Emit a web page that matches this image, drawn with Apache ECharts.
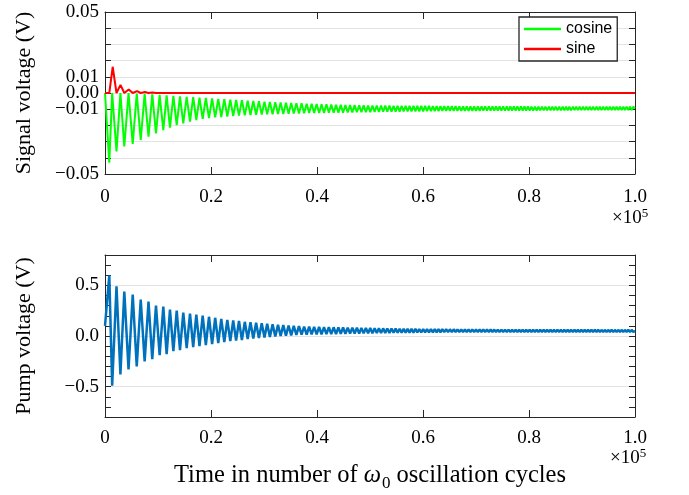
<!DOCTYPE html>
<html><head><meta charset="utf-8">
<script src="https://cdn.jsdelivr.net/npm/echarts@6/dist/echarts.min.js"></script>
<style>html,body{margin:0;padding:0;background:#fff}#c{width:689px;height:495px}</style>
</head><body><div id="c"></div>
<script>
// ---- tick labels ----
const xTickLabels = ['0', '0.2', '0.4', '0.6', '0.8', '1.0'];
const signalTickValues = [-0.05, -0.01, 0, 0.01, 0.05];
const signalTickLabels = ['\u22120.05', '\u22120.01', '0.00', '0.01', '0.05'];
const pumpTickValues = [-0.5, 0, 0.5];
const pumpTickLabels = ['\u22120.5', '0.0', '0.5'];
const seriesNames = ['cosine', 'sine'];

// ---- turning points (x in oscillation cycles) ----
const peakX = [
  810, 2170, 3640, 5230, 6740, 8210, 9620, 11000, 12260, 13530,
  14770, 16040, 17230, 18430, 19620, 20790, 21940, 23080, 24190, 25280,
  26380, 27450, 28510, 29570, 30600, 31620, 32640, 33640, 34640, 35620,
  36600, 37570, 38520, 39460, 40400, 41320, 42240, 43140, 44040, 44920,
  45800, 46670, 47530, 48380, 49220, 50050, 50870, 51680, 52480, 53270,
  54060, 54830, 55590, 56350, 57090, 57830, 58570, 59300, 60040, 60760,
  61490, 62220, 62930, 63650, 64370, 65080, 65790, 66500, 67210, 67910,
  68600, 69300, 70000, 70690, 71380, 72070, 72760, 73440, 74110, 74790,
  75470, 76140, 76810, 77480, 78150, 78810, 79470, 80130, 80790, 81450,
  82110, 82770, 83420, 84070, 84720, 85370, 86020, 86660, 87300, 87940,
  88590, 89230, 89870, 90510, 91150, 91780, 92420, 93050, 93680, 94310,
  94940, 95580, 96210, 96840, 97470, 98100, 98740, 99370
];
const troughX = [
  1350, 2910, 4440, 5990, 7480, 8920, 10310, 11630, 12900, 14150,
  15410, 16640, 17830, 19030, 20210, 21370, 22510, 23640, 24740, 25830,
  26920, 27980, 29040, 30090, 31110, 32130, 33140, 34140, 35130, 36110,
  37090, 38050, 38990, 39930, 40860, 41780, 42690, 43590, 44480, 45360,
  46240, 47100, 47960, 48800, 49640, 50460, 51280, 52080, 52880, 53670,
  54450, 55210, 55970, 56720, 57460, 58200, 58940, 59670, 60400, 61130,
  61860, 62580, 63290, 64010, 64730, 65440, 66150, 66860, 67560, 68260,
  68950, 69650, 70350, 71040, 71730, 72420, 73100, 73780, 74450, 75130,
  75810, 76480, 77150, 77820, 78480, 79140, 79800, 80460, 81120, 81780,
  82440, 83100, 83750, 84400, 85050, 85700, 86340, 86980, 87620, 88270,
  88910, 89550, 90190, 90830, 91470, 92100, 92740, 93370, 94000, 94630,
  95260, 95900, 96530, 97160, 97790, 98420, 99060, 99690
];
const xStart = 0, xEnd = 100000;

// ---- pump voltage (V) at peaks / troughs ----
const pumpStart = 0.1, pumpEnd = 0.05;
const pumpPeak = [
  0.60, 0.49, 0.44, 0.41, 0.36, 0.34, 0.30, 0.29, 0.26, 0.25,
  0.23, 0.22, 0.21, 0.20, 0.19, 0.18, 0.17, 0.16, 0.155, 0.15,
  0.14, 0.135, 0.13, 0.125, 0.12, 0.115, 0.11, 0.107, 0.104, 0.10,
  0.097, 0.093, 0.092, 0.090, 0.089, 0.088, 0.087, 0.086, 0.085, 0.084,
  0.083, 0.082, 0.081, 0.080, 0.079, 0.078, 0.077, 0.076, 0.075, 0.074,
  0.073, 0.073, 0.072, 0.071, 0.071, 0.070, 0.070, 0.069, 0.069, 0.068,
  0.068, 0.067, 0.067, 0.067, 0.066, 0.066, 0.066, 0.065, 0.065, 0.065,
  0.065, 0.064, 0.064, 0.064, 0.064, 0.064, 0.063, 0.063, 0.063, 0.063,
  0.063, 0.063, 0.062, 0.062, 0.062, 0.062, 0.062, 0.062, 0.062, 0.062,
  0.062, 0.062, 0.062, 0.062, 0.061, 0.061, 0.061, 0.061, 0.061, 0.061,
  0.061, 0.061, 0.061, 0.061, 0.061, 0.061, 0.061, 0.061, 0.060, 0.060,
  0.060, 0.060, 0.060, 0.060, 0.060, 0.060, 0.060, 0.060
];
const pumpTrough = [
  -0.49, -0.38, -0.33, -0.30, -0.25, -0.23, -0.19, -0.18, -0.15, -0.14,
  -0.12, -0.11, -0.10, -0.09, -0.08, -0.07, -0.06, -0.05, -0.045, -0.04,
  -0.03, -0.025, -0.02, -0.015, -0.01, -0.005, 0.0, 0.003, 0.006, 0.01,
  0.013, 0.014, 0.015, 0.016, 0.017, 0.018, 0.019, 0.020, 0.021, 0.022,
  0.023, 0.024, 0.025, 0.026, 0.027, 0.028, 0.029, 0.030, 0.031, 0.031,
  0.032, 0.032, 0.033, 0.033, 0.034, 0.034, 0.035, 0.035, 0.036, 0.036,
  0.037, 0.037, 0.037, 0.038, 0.038, 0.038, 0.039, 0.039, 0.039, 0.039,
  0.040, 0.040, 0.040, 0.040, 0.040, 0.040, 0.040, 0.039, 0.039, 0.039,
  0.039, 0.039, 0.039, 0.039, 0.039, 0.039, 0.039, 0.039, 0.039, 0.039,
  0.039, 0.039, 0.039, 0.039, 0.040, 0.040, 0.040, 0.040, 0.040, 0.040,
  0.040, 0.040, 0.040, 0.040, 0.040, 0.040, 0.040, 0.040, 0.040, 0.040,
  0.040, 0.040, 0.040, 0.040, 0.040, 0.040, 0.040, 0.040
];

// ---- signal cosine (V): dips at peakX, tops at troughX ----
const cosStart = 0, cosEnd = -0.0095;
const cosDip = [
  -0.043, -0.036, -0.033, -0.0315, -0.029, -0.027, -0.025, -0.023, -0.0214, -0.0198,
  -0.0187, -0.0177, -0.0167, -0.016, -0.0155, -0.0151, -0.0148, -0.0145, -0.0142, -0.014,
  -0.0138, -0.0136, -0.0134, -0.0133, -0.0132, -0.0131, -0.013, -0.0129, -0.0128, -0.0127,
  -0.0126, -0.0125, -0.0124, -0.0124, -0.0123, -0.0123, -0.0122, -0.0122, -0.0121, -0.0121,
  -0.012, -0.012, -0.0119, -0.0119, -0.0118, -0.0118, -0.0117, -0.0117, -0.0116, -0.0116,
  -0.0115, -0.0115, -0.0115, -0.0114, -0.0114, -0.0114, -0.0113, -0.0113, -0.0113, -0.0112,
  -0.0112, -0.0112, -0.0112, -0.0111, -0.0111, -0.0111, -0.0111, -0.011, -0.011, -0.011,
  -0.011, -0.011, -0.011, -0.011, -0.0109, -0.0109, -0.0109, -0.0109, -0.0109, -0.0109,
  -0.0109, -0.0109, -0.0108, -0.0108, -0.0108, -0.0108, -0.0108, -0.0108, -0.0108, -0.0108,
  -0.0107, -0.0107, -0.0107, -0.0107, -0.0107, -0.0107, -0.0107, -0.0107, -0.0107, -0.0107,
  -0.0106, -0.0106, -0.0106, -0.0106, -0.0106, -0.0106, -0.0106, -0.0106, -0.0106, -0.0106,
  -0.0105, -0.0105, -0.0105, -0.0105, -0.0105, -0.0105, -0.0105, -0.0105
];
const cosTop = [
  0, 0, -0.0001, -0.0003, -0.0005, -0.0008, -0.0012, -0.0015, -0.0018, -0.0021,
  -0.0024, -0.0026, -0.0029, -0.0031, -0.0034, -0.0036, -0.0038, -0.0041, -0.0043, -0.0045,
  -0.0047, -0.0049, -0.0051, -0.0053, -0.0055, -0.0057, -0.0059, -0.006, -0.0062, -0.0063,
  -0.0064, -0.0066, -0.0067, -0.0068, -0.0069, -0.007, -0.0071, -0.0072, -0.0073, -0.0074,
  -0.0075, -0.0075, -0.0076, -0.0076, -0.0077, -0.0077, -0.0077, -0.0078, -0.0078, -0.0078,
  -0.0079, -0.0079, -0.0079, -0.0079, -0.008, -0.008, -0.008, -0.008, -0.008, -0.008,
  -0.0081, -0.0081, -0.0081, -0.0081, -0.0081, -0.0081, -0.0081, -0.0082, -0.0082, -0.0082,
  -0.0082, -0.0082, -0.0082, -0.0082, -0.0082, -0.0082, -0.0083, -0.0083, -0.0083, -0.0083,
  -0.0083, -0.0083, -0.0083, -0.0083, -0.0083, -0.0083, -0.0083, -0.0084, -0.0084, -0.0084,
  -0.0084, -0.0084, -0.0084, -0.0084, -0.0084, -0.0084, -0.0084, -0.0084, -0.0084, -0.0084,
  -0.0085, -0.0085, -0.0085, -0.0085, -0.0085, -0.0085, -0.0085, -0.0085, -0.0085, -0.0085,
  -0.0085, -0.0085, -0.0085, -0.0085, -0.0085, -0.0085, -0.0085, -0.0085
];

// ---- signal sine (V) ----
const sineX = [0, 810, 1450, 2170, 2920, 3640, 4470, 5230, 6040, 6740, 7550, 8210, 8920, 9620, 100000];
const sineY = [0, 0, 0.0162, 0, 0.005, 0, 0.0022, 0, 0.0012, 0, 0.0006, 0, 0.0003, 0, 0];

// ---- build series data from the arrays ----
function zigzag(y0, atPeak, atTrough, y1) {
  const d = [[xStart, y0]];
  const n = Math.min(peakX.length, troughX.length, atPeak.length, atTrough.length);
  for (let i = 0; i < n; i++) {
    d.push([peakX[i], atPeak[i]]);
    d.push([troughX[i], atTrough[i]]);
  }
  d.push([xEnd, y1]);
  return d;
}
const pumpData = zigzag(pumpStart, pumpPeak, pumpTrough, pumpEnd);
const cosData = zigzag(cosStart, cosDip, cosTop, cosEnd);
const sineData = sineX.map((x, i) => [x, sineY[i]]);

const SERIF = 'Liberation Serif';
const AX = '#262626';
function pickLabel(vals, labels) {
  return v => { const i = vals.findIndex(t => Math.abs(t - v) < 1e-9); return i >= 0 ? labels[i] : ''; };
}
function xAxes(grid, withName, margin) {
  const base = {
    gridIndex: grid, type: 'value', min: 0, max: 100000, interval: 20000,
    axisLine: { show: true, onZero: false, lineStyle: { color: AX, width: 1 } },
    axisTick: { show: true, inside: true, length: 7, lineStyle: { color: AX, width: 1 } },
    splitLine: { show: false }
  };
  const bottom = Object.assign({}, base, {
    position: 'bottom',
    axisLabel: { formatter: v => xTickLabels[Math.round(v / 20000)], fontFamily: SERIF, fontSize: 19, color: '#000', margin }
  });
  if (withName) {
    Object.assign(bottom, {
      name: 'Time in number of {w|\u03c9}{s|0} oscillation cycles',
      nameLocation: 'middle', nameGap: 43,
      nameTextStyle: {
        fontFamily: SERIF, fontSize: 24.5, color: '#000',
        rich: {
          w: { fontFamily: SERIF, fontSize: 24.5, fontStyle: 'italic', color: '#000' },
          s: { fontFamily: SERIF, fontSize: 17, color: '#000', verticalAlign: 'bottom', padding: [15, 0, 0, 1] }
        }
      }
    });
  }
  const top = Object.assign({}, base, { position: 'top', axisLabel: { show: false } });
  return [bottom, top];
}
function yAxes(grid, min, max, interval, vals, labels, name, splitColors, tickLen) {
  const base = {
    gridIndex: grid, type: 'value', min, max, interval,
    axisLine: { show: true, onZero: false, lineStyle: { color: AX, width: 1 } },
    axisTick: { show: true, inside: true, length: tickLen, lineStyle: { color: AX, width: 1 } }
  };
  const left = Object.assign({}, base, {
    position: 'left',
    axisLabel: { formatter: pickLabel(vals, labels), fontFamily: SERIF, fontSize: 19, color: '#000', margin: 6 },
    splitLine: { show: true, lineStyle: { color: splitColors, width: 1 } },
    name, nameLocation: 'middle', nameGap: 70, nameRotate: 90,
    nameTextStyle: { fontFamily: SERIF, fontSize: 22, color: '#000' }
  });
  const right = Object.assign({}, base, { position: 'right', axisLabel: { show: false }, splitLine: { show: false } });
  return [left, right];
}

const G = '#e3e3e3', T = 'rgba(0,0,0,0)';
const supText = { fontSize: 13, fontFamily: SERIF, verticalAlign: 'top', padding: [0, 0, 10, 0] };
const option = {
  animation: false,
  backgroundColor: '#fff',
  grid: [
    { left: 105, right: 54, top: 12, height: 162 },
    { left: 105, right: 54, top: 255, height: 162 }
  ],
  xAxis: [...xAxes(0, false, 14), ...xAxes(1, true, 12)],
  yAxis: [
    ...yAxes(0, -0.05, 0.05, 0.01, signalTickValues, signalTickLabels, 'Signal voltage (V)', [G], 6),
    ...yAxes(1, -0.8, 0.8, 0.1, pumpTickValues, pumpTickLabels, 'Pump voltage (V)', [T, T, T, G, T], 6)
  ],
  legend: {
    data: seriesNames, orient: 'vertical', left: 519, top: 17,
    padding: [4, 5, 4, 5], itemGap: 4, itemWidth: 37, itemHeight: 2.5, icon: 'rect',
    borderColor: AX, borderWidth: 1.3, backgroundColor: '#fff',
    textStyle: { fontFamily: 'Liberation Sans', fontSize: 16, color: '#000', lineHeight: 16 }
  },
  graphic: [
    { type: 'text', left: 612, top: 207, style: { text: '\u00d710{s|5}', font: '19px "Liberation Serif"', fill: '#000', rich: { s: supText } } },
    { type: 'text', left: 610, top: 447, style: { text: '\u00d710{s|5}', font: '19px "Liberation Serif"', fill: '#000', rich: { s: supText } } }
  ],
  series: [
    { name: seriesNames[0], type: 'line', xAxisIndex: 0, yAxisIndex: 0, data: cosData, symbol: 'none', color: '#00ff00', lineStyle: { color: '#00ff00', width: 2 }, z: 2 },
    { name: seriesNames[1], type: 'line', xAxisIndex: 0, yAxisIndex: 0, data: sineData, symbol: 'none', color: '#ff0000', lineStyle: { color: '#ff0000', width: 2 }, z: 3 },
    { name: 'pump', type: 'line', xAxisIndex: 2, yAxisIndex: 2, data: pumpData, symbol: 'none', color: '#0072bd', lineStyle: { color: '#0072bd', width: 2.5 }, z: 2 }
  ]
};
const chart = echarts.init(document.getElementById('c'), null, { renderer: 'canvas' });
chart.setOption(option);
</script>
</body></html>
